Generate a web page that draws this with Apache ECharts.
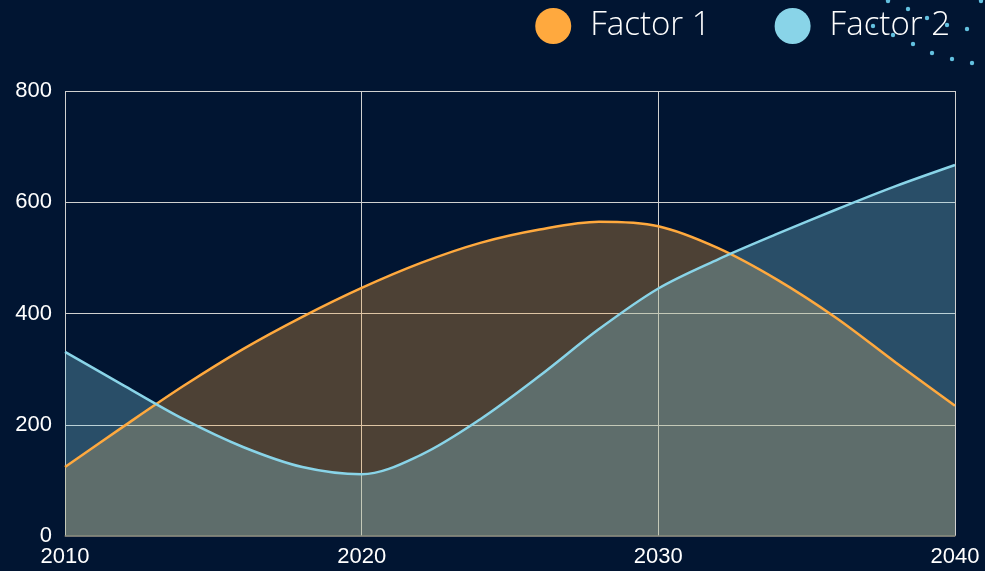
<!DOCTYPE html>
<html>
<head>
<meta charset="utf-8">
<style>
  html, body { margin: 0; padding: 0; background: #011532; }
  #chart { width: 985px; height: 571px; }
</style>
<script src="https://cdn.jsdelivr.net/npm/echarts@6/dist/echarts.min.js"></script>
</head>
<body>
<div id="chart"></div>
<script>
// Sample years along the horizontal axis
const years = [2010, 2012, 2014, 2016, 2018, 2020, 2022, 2024,
               2026, 2028, 2030, 2032, 2034, 2036, 2038, 2040];
// Series values per sample year
const factor1 = [124, 198, 270, 336, 394, 446, 491, 527,
                 551, 565, 557, 518, 461, 392, 312, 234];
const factor2 = [331, 270, 210, 160, 124, 111, 146, 210,
                 288, 372, 445, 497, 543, 587, 629, 667];
const seriesNames = ['Factor 1', 'Factor 2'];
const seriesColors = ['#FFA93E', '#89D4E8'];

const chart = echarts.init(document.getElementById('chart'));

// Small decorative dot trail in the top right corner
const dotSpots = [
  [888, 1], [908, 9], [927, 18], [947, 25], [967, 29], [981, 1],
  [873, 26], [893, 35], [913, 44], [932, 53], [952, 59], [972, 63]
];
const dots = dotSpots.map(p => ({
  type: 'circle',
  shape: { cx: p[0], cy: p[1], r: 2.2 },
  style: { fill: '#63C1E0' },
  z: 100
}));

function mkSeries(name, vals, color) {
  return {
    name: name,
    type: 'line',
    smooth: 0.33,
    showSymbol: false,
    data: years.map((y, i) => [y, vals[i]]),
    lineStyle: { color: color, width: 2.5 },
    itemStyle: { color: color },
    areaStyle: { color: color, opacity: 0.3 }
  };
}

chart.setOption({
  backgroundColor: '#011532',
  animation: false,
  graphic: dots,
  legend: {
    right: 30,
    top: 3,
    icon: 'circle',
    itemWidth: 36,
    itemHeight: 36,
    itemGap: 64,
    data: seriesNames,
    textStyle: {
      color: '#ffffff',
      fontSize: 33,
      fontFamily: 'Open Sans',
      fontWeight: 300,
      padding: [0, 0, 0, 14]
    }
  },
  grid: { left: 65, right: 30, top: 91, bottom: 35 },
  xAxis: {
    type: 'value',
    min: 2010,
    max: 2040,
    interval: 10,
    axisLine: { show: true, lineStyle: { color: '#5a5a55', width: 1.5 } },
    axisTick: { show: false },
    axisLabel: {
      color: '#ffffff',
      fontSize: 22,
      fontFamily: 'Liberation Sans',
      margin: 10,
      formatter: v => String(v)
    },
    splitLine: { show: true, lineStyle: { color: '#d0d0d0', width: 1 } }
  },
  yAxis: {
    type: 'value',
    min: 0,
    max: 800,
    interval: 200,
    axisLine: { show: false },
    axisTick: { show: false },
    axisLabel: {
      color: '#ffffff',
      fontSize: 22,
      fontFamily: 'Liberation Sans',
      margin: 13
    },
    splitLine: { show: true, lineStyle: { color: '#d0d0d0', width: 1 } }
  },
  series: [
    mkSeries(seriesNames[0], factor1, seriesColors[0]),
    mkSeries(seriesNames[1], factor2, seriesColors[1])
  ]
});
</script>
</body>
</html>
